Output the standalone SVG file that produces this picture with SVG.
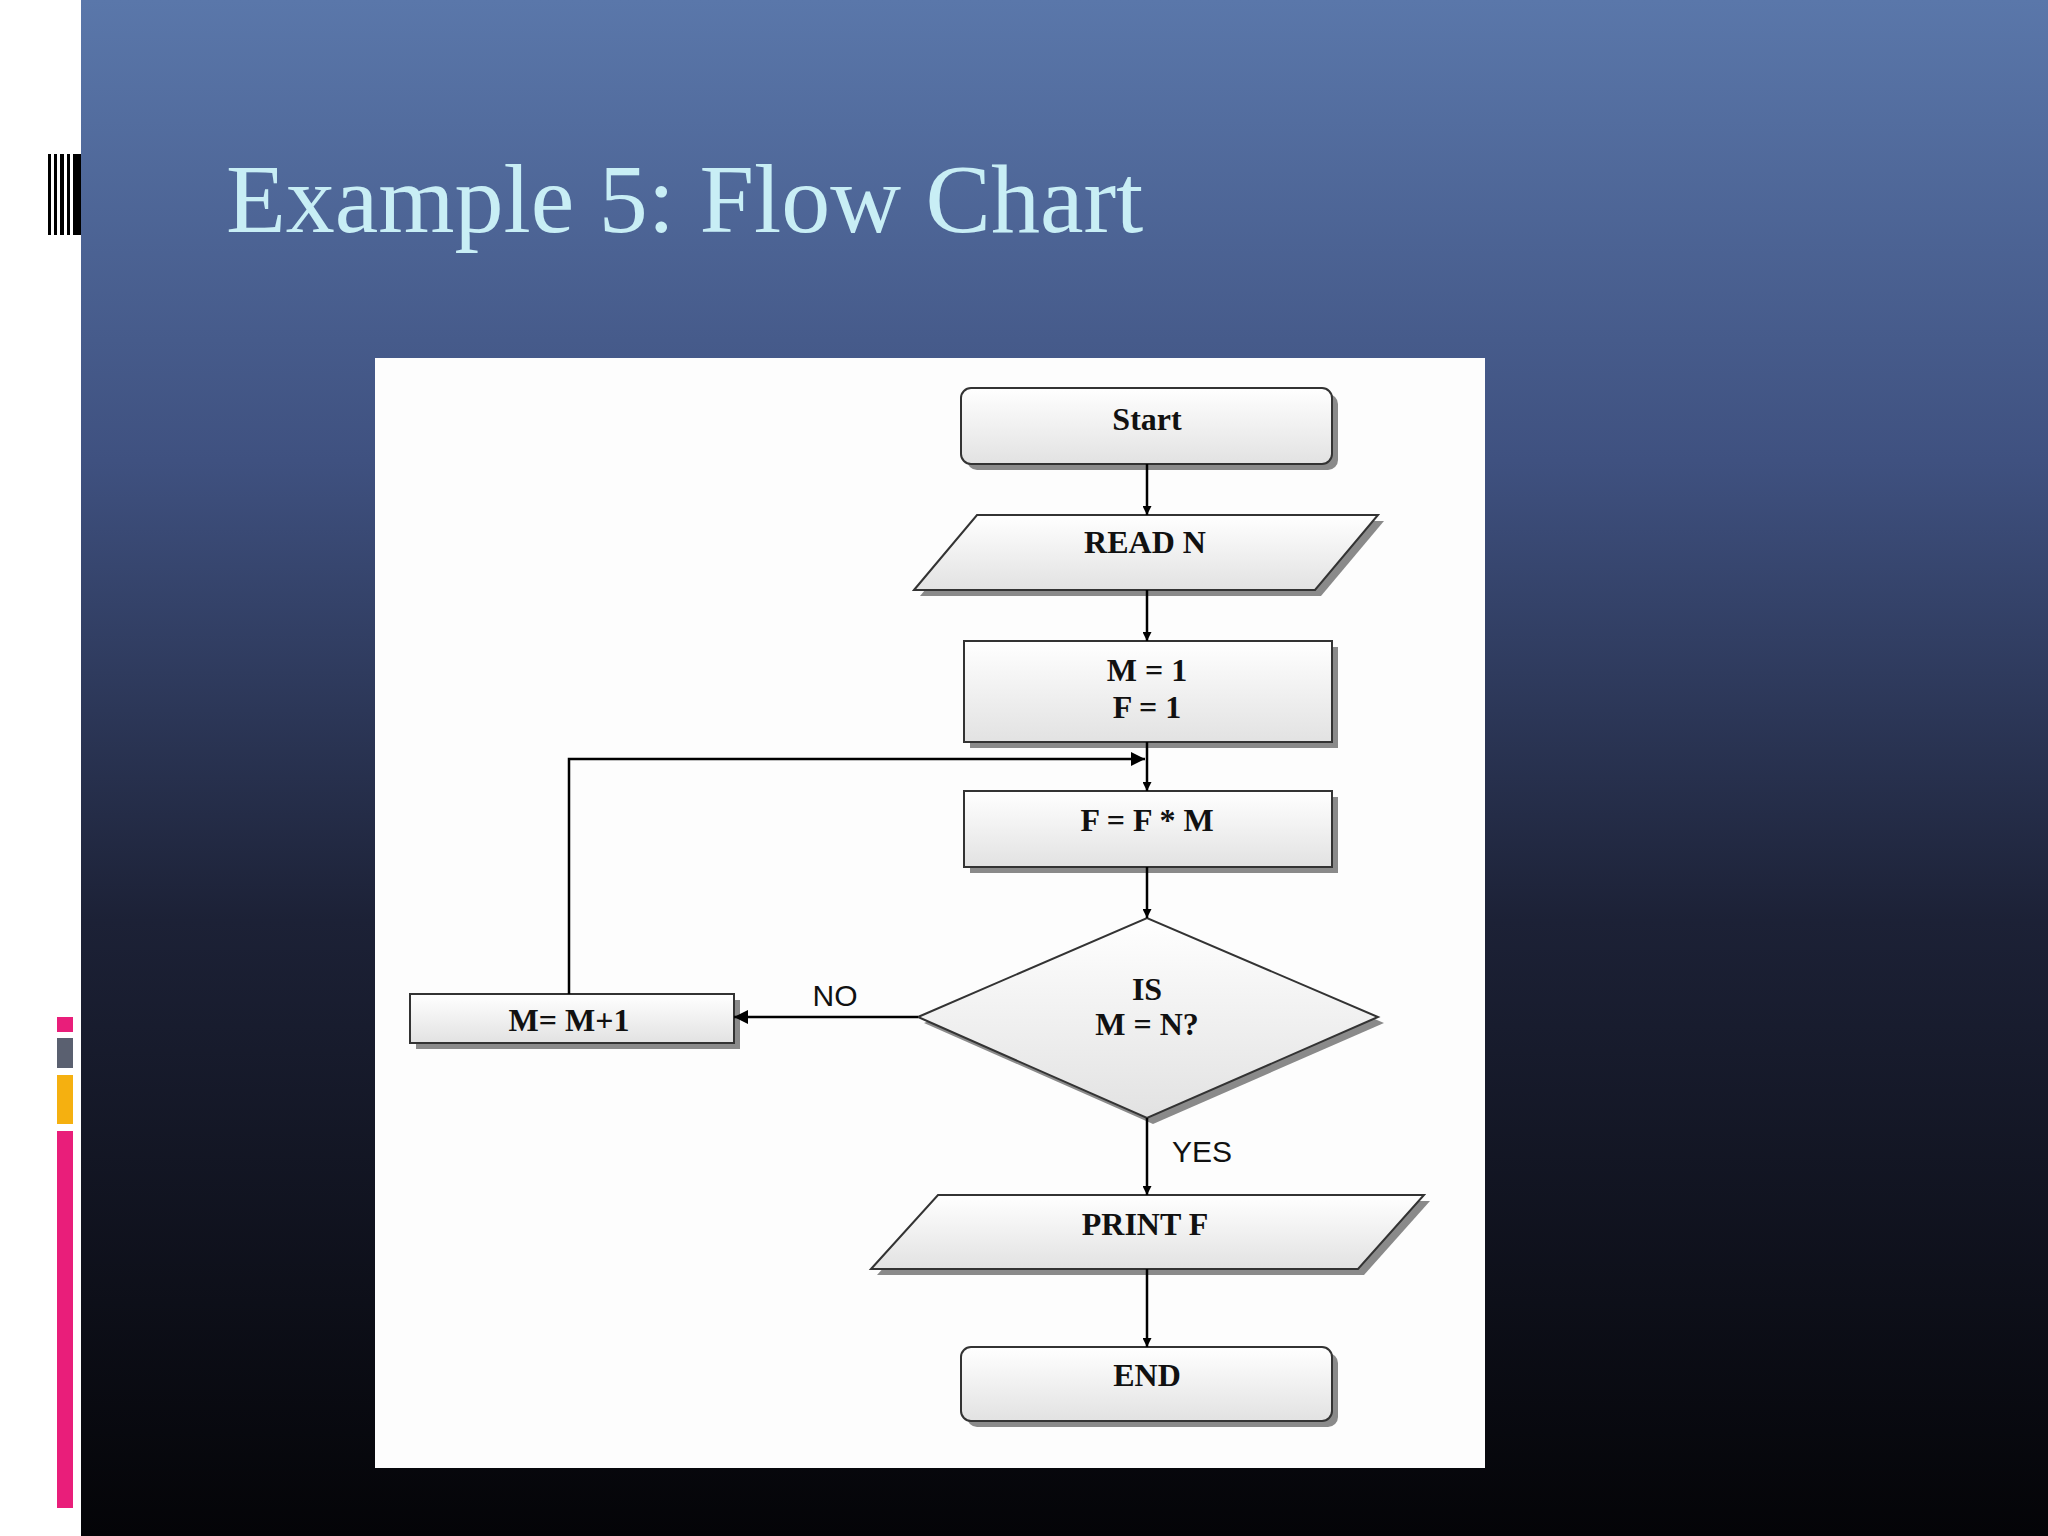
<svg xmlns="http://www.w3.org/2000/svg" width="2048" height="1536" viewBox="0 0 2048 1536">
<defs>
<linearGradient id="bg" x1="0" y1="0" x2="0" y2="1">
<stop offset="0" stop-color="#5a77aa"/><stop offset="0.3" stop-color="#3f5180"/><stop offset="0.6" stop-color="#1c2136"/><stop offset="1" stop-color="#040407"/>
</linearGradient>
<linearGradient id="nf" x1="0" y1="0" x2="0" y2="1">
<stop offset="0" stop-color="#ffffff"/><stop offset="1" stop-color="#e2e2e2"/>
</linearGradient>
<marker id="ah" viewBox="0 0 10 10" refX="10" refY="5" markerWidth="9" markerHeight="9" orient="auto" markerUnits="userSpaceOnUse">
<path d="M0,0 L10,5 L0,10 z" fill="#000"/>
</marker>
<marker id="ahb" viewBox="0 0 10 10" refX="10" refY="5" markerWidth="14" markerHeight="14" orient="auto" markerUnits="userSpaceOnUse">
<path d="M0,0 L10,5 L0,10 z" fill="#000"/>
</marker>
</defs>
<style>
.n{fill:url(#nf);stroke:#333;stroke-width:2}
.sh{fill:#8a8a8a}
.t{font-family:"Liberation Serif",serif;font-weight:bold;font-size:32px;fill:#111;text-anchor:middle}
.s{font-family:"Liberation Sans",sans-serif;font-size:30px;fill:#111;text-anchor:middle}
.c{fill:none;stroke:#000;stroke-width:2.5}
</style>
<rect width="2048" height="1536" fill="#fff"/>
<rect x="81" y="0" width="1967" height="1536" fill="url(#bg)"/>
<g fill="#000"><rect x="48" y="154" width="3" height="81"/><rect x="54" y="154" width="3" height="81"/><rect x="60" y="154" width="4" height="81"/><rect x="67" y="154" width="3" height="81"/><rect x="73" y="154" width="8" height="81"/></g>
<rect x="57" y="1017" width="16" height="15" fill="#e91e7a"/>
<rect x="57" y="1038" width="16" height="30" fill="#5a6070"/>
<rect x="57" y="1075" width="16" height="49" fill="#f5b010"/>
<rect x="57" y="1131" width="16" height="377" fill="#e91e7a"/>
<text x="226" y="232" font-family="Liberation Serif,serif" font-size="98" fill="#c8eef5">Example 5: Flow Chart</text>
<rect x="375" y="358" width="1110" height="1110" fill="#fdfdfd"/>
<g id="start"><rect class="sh" x="967" y="394" width="371" height="76" rx="10"/><rect class="n" x="961" y="388" width="371" height="76" rx="10"/><text class="t" x="1147" y="430">Start</text></g>
<g id="read"><polygon class="sh" points="920,596 983,521 1384,521 1321,596"/><polygon class="n" points="914,590 977,515 1378,515 1315,590"/><text class="t" x="1145" y="553">READ N</text></g>
<g id="init"><rect class="sh" x="970" y="647" width="368" height="101"/><rect class="n" x="964" y="641" width="368" height="101"/><text class="t" x="1147" y="681">M = 1</text><text class="t" x="1147" y="718">F = 1</text></g>
<g id="mult"><rect class="sh" x="970" y="797" width="368" height="76"/><rect class="n" x="964" y="791" width="368" height="76"/><text class="t" x="1147" y="831">F = F * M</text></g>
<g id="dec"><polygon class="sh" points="924,1023 1153,924 1384,1023 1153,1124"/><polygon class="n" points="918,1017 1147,918 1378,1017 1147,1118"/><text class="t" x="1147" y="1000">IS</text><text class="t" x="1147" y="1035">M = N?</text></g>
<g id="inc"><rect class="sh" x="416" y="1000" width="324" height="49"/><rect class="n" x="410" y="994" width="324" height="49"/><text class="t" x="569" y="1031">M= M+1</text></g>
<g id="print"><polygon class="sh" points="877,1275 944,1201 1430,1201 1364,1275"/><polygon class="n" points="871,1269 938,1195 1424,1195 1358,1269"/><text class="t" x="1145" y="1235">PRINT F</text></g>
<g id="end"><rect class="sh" x="967" y="1353" width="371" height="74" rx="10"/><rect class="n" x="961" y="1347" width="371" height="74" rx="10"/><text class="t" x="1147" y="1386">END</text></g>
<g id="connectors">
<line class="c" x1="1147" y1="464" x2="1147" y2="515" marker-end="url(#ah)"/>
<line class="c" x1="1147" y1="590" x2="1147" y2="641" marker-end="url(#ah)"/>
<line class="c" x1="1147" y1="742" x2="1147" y2="791" marker-end="url(#ah)"/>
<line class="c" x1="1147" y1="867" x2="1147" y2="918" marker-end="url(#ah)"/>
<line class="c" x1="918" y1="1017" x2="734" y2="1017" marker-end="url(#ahb)"/>
<polyline class="c" points="569,994 569,759 1145,759" marker-end="url(#ahb)"/>
<line class="c" x1="1147" y1="1118" x2="1147" y2="1195" marker-end="url(#ah)"/>
<line class="c" x1="1147" y1="1269" x2="1147" y2="1347" marker-end="url(#ah)"/>
<text class="s" x="835" y="1006">NO</text>
<text class="s" x="1202" y="1162">YES</text>
</g>
</svg>
